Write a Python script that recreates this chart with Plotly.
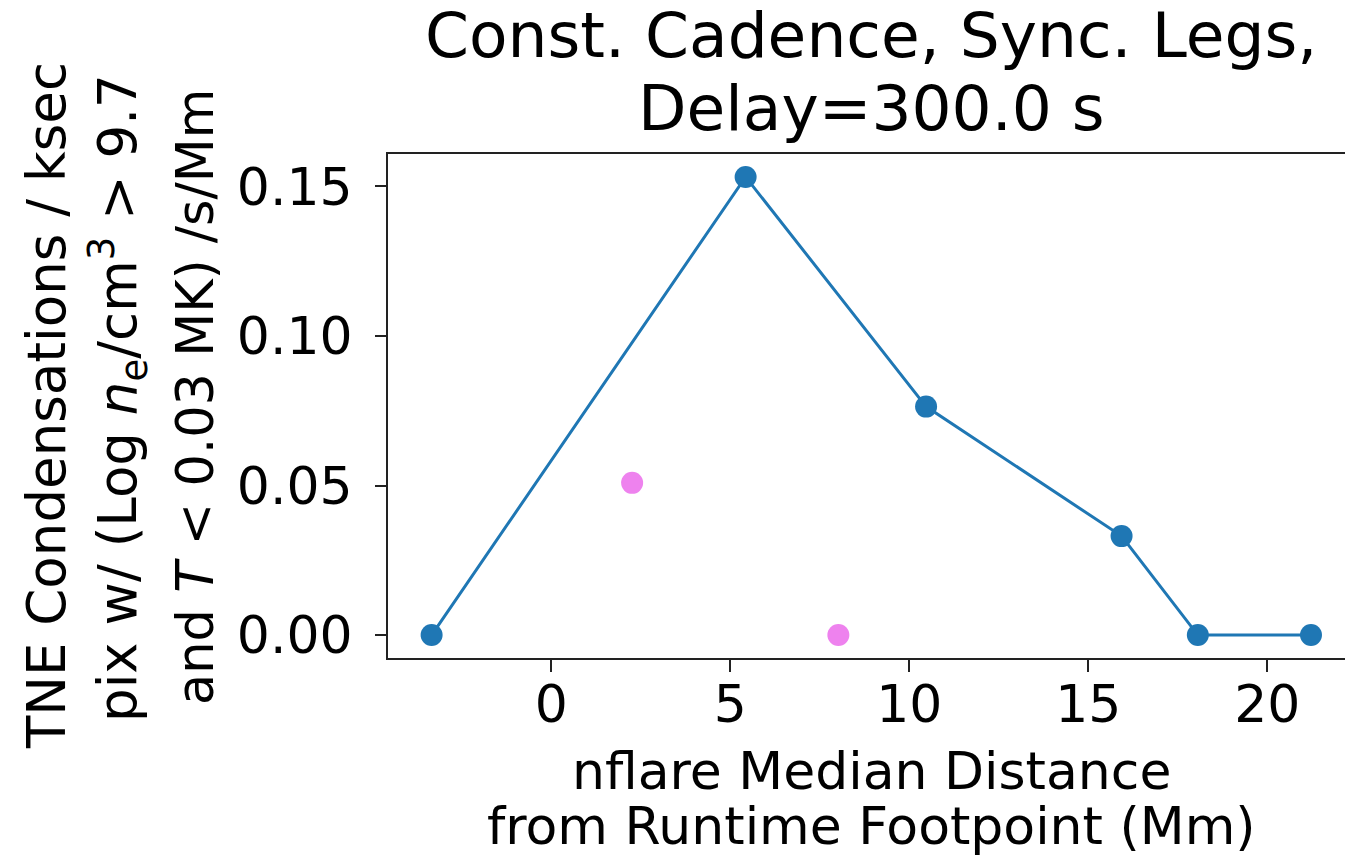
import plotly.graph_objects as go

# ---- data ----
blue_x = [-3.34, 5.43, 10.47, 15.93, 18.06, 21.22]
blue_y = [0.0, 0.1532, 0.0764, 0.0331, 0.0, 0.0]
pink_x = [2.26, 8.02]
pink_y = [0.0509, 0.0]

x_ticks = [0, 5, 10, 15, 20]
y_ticks = [0.00, 0.05, 0.10, 0.15]

title_lines = ["Const. Cadence, Sync. Legs,", "Delay=300.0 s"]
xlabel_lines = ["nflare Median Distance", "from Runtime Footpoint (Mm)"]
ylabel_lines = [
    "TNE Condensations / ksec",
    "pix w/ (Log <i>n</i><sub>e</sub>/cm<sup>3</sup> &gt; 9.7",
    "and <i>T</i> &lt; 0.03 MK) /s/Mm",
]

W, H = 1345, 855
L, R, T, B = 388, 0, 154, 197
PW, PH = W - L - R, H - T - B
FONT = "DejaVu Sans"


def px(xp):
    return (xp - L) / PW


def py(yp):
    return (H - B - yp) / PH


fig = go.Figure()
fig.add_trace(go.Scatter(
    x=blue_x, y=blue_y, mode="lines+markers",
    line=dict(color="#1f77b4", width=3),
    marker=dict(color="#1f77b4", size=22),
    showlegend=False, cliponaxis=False,
))
fig.add_trace(go.Scatter(
    x=pink_x, y=pink_y, mode="markers",
    marker=dict(color="#EE82EE", size=22),
    showlegend=False, cliponaxis=False,
))

fig.update_layout(
    width=W, height=H,
    margin=dict(l=L, r=R, t=T, b=B, pad=0),
    paper_bgcolor="white", plot_bgcolor="white",
    font=dict(family=FONT, size=52, color="black"),
    showlegend=False,
)
fig.update_xaxes(
    range=[-4.558, 22.17], tickvals=x_ticks, ticktext=[str(v) for v in x_ticks],
    showgrid=False, zeroline=False,
    showline=True, linecolor="#222", linewidth=2, mirror=True,
    ticks="outside", ticklen=12, tickwidth=2, tickcolor="#222",
    tickfont=dict(family=FONT, size=52, color="black"),
    ticklabelstandoff=-12,
)
fig.update_yaxes(
    range=[-0.00766, 0.16086], tickvals=y_ticks,
    ticktext=[f"{v:.2f}" for v in y_ticks],
    showgrid=False, zeroline=False,
    showline=True, linecolor="#222", linewidth=2, mirror=False,
    ticks="outside", ticklen=11, tickwidth=2, tickcolor="#222",
    tickfont=dict(family=FONT, size=52, color="black"),
    ticklabelstandoff=12,
)

ann = []
# title
for txt, yc in zip(title_lines, [36, 108]):
    ann.append(dict(text=txt, x=px(871), y=py(yc), xref="paper", yref="paper",
                    xanchor="center", yanchor="middle", showarrow=False,
                    font=dict(family=FONT, size=63, color="black")))
# x label
for txt, yc in zip(xlabel_lines, [771, 826]):
    ann.append(dict(text=txt, x=px(871), y=py(yc), xref="paper", yref="paper",
                    xanchor="center", yanchor="middle", showarrow=False,
                    font=dict(family=FONT, size=52, color="black")))
# y label
for txt, xc, yc, fs in zip(ylabel_lines, [46, 118, 195], [406, 398, 397], [53, 53, 51]):
    ann.append(dict(text=txt, x=px(xc), y=py(yc), xref="paper", yref="paper",
                    xanchor="center", yanchor="middle", showarrow=False,
                    textangle=-90,
                    font=dict(family=FONT, size=fs, color="black")))
fig.update_layout(annotations=ann)

fig.write_html("out.html")
